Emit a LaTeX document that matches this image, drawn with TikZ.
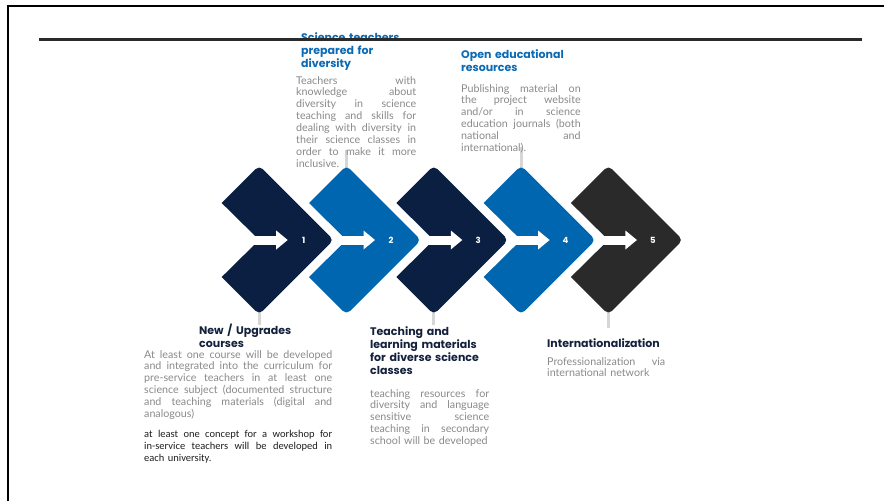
\documentclass[tikz,border=0pt]{standalone}
\usepackage{fontspec}
\usetikzlibrary{calc}
\setmainfont{Lato}
\newfontfamily\popfont{Poppins}
\newfontfamily\calfont{Carlito}
\definecolor{navy}{HTML}{0B1F42}
\definecolor{cblue}{HTML}{0066B0}
\definecolor{cdark}{HTML}{2A2A2A}
\definecolor{tblue}{HTML}{0A6AB5}
\definecolor{tnavy}{HTML}{14213D}
\definecolor{graytxt}{HTML}{8A8A8A}
\definecolor{connline}{HTML}{D6D6D6}
% one justified line of a text block, \jw wide (stretchable word spaces)
\newlength{\jw}
\newcommand{\jl}[1]{\leavevmode\hbox to \jw{\spaceskip=0pt\xspaceskip=0pt #1}}
\begin{document}
\begin{tikzpicture}[x=1pt,y=-1pt,
  ttl/.style={anchor=base west, inner sep=0pt, align=left, text width=150pt,
    font=\popfont\bfseries\fontsize{11}{13.3}\selectfont},
  bodytxt/.style={anchor=base west, inner sep=0pt, align=left, text width=#1,
    execute at begin node={\setlength{\jw}{#1}},
    text=graytxt, font=\fontsize{10.7}{11.9}\selectfont},
  blacktxt/.style={anchor=base west, inner sep=0pt, align=left, text width=#1,
    execute at begin node={\setlength{\jw}{#1}},
    text=black!88, font=\calfont\fontsize{10.5}{12.3}\selectfont},
  num/.style={inner sep=0pt, text=white, font=\popfont\bfseries\fontsize{8.5}{8.5}\selectfont},
  conn/.style={draw=connline, line width=2.8pt}]
\useasboundingbox (0,0) rectangle (884,501);
\fill[white] (0,0) rectangle (884,501);

% outer frame (top and left edges)
\draw[black, line width=2pt] (7.5,501) -- (7.5,6) -- (884,6);

% step tips, used as connector ends
\foreach \i in {1,...,5} {
  \pgfmathsetmacro\xo{221.7+87.3*(\i-1)}
  \coordinate (top\i) at (\xo+37.5,168);
  \coordinate (bot\i) at (\xo+37.5,312);
}
\coordinate (e1) at ($(bot1)+(0,13)$);
\coordinate (e2) at ($(top2)+(0,-18)$);
\coordinate (e3) at ($(bot3)+(0,13)$);
\coordinate (e4) at ($(top4)+(0,-21)$);
\coordinate (e5) at ($(bot5)+(0,16)$);

% connectors from the steps to their descriptions
\draw[conn] (bot1) -- (e1);
\draw[conn] (top2) -- (e2);
\draw[conn] (bot3) -- (e3);
\draw[conn] (top4) -- (e4);
\draw[conn] (bot5) -- (e5);

% the five chevron steps with arrows and numbers
\foreach \i/\col in {1/navy,2/cblue,3/navy,4/cblue,5/cdark} {
  \pgfmathsetmacro\xo{221.7+87.3*(\i-1)}
  \fill[\col] (\xo,203) [rounded corners=5pt] -- (\xo+37.5,165.5) -- (\xo+112,240)
    -- (\xo+37.5,314.5) [sharp corners] -- (\xo,277) -- (\xo+37.5,240) -- cycle;
  \fill[white] (\xo+31,235.5) rectangle (\xo+55,244.5);
  \fill[white] (\xo+54.5,230.5) -- (\xo+66,240) -- (\xo+54.5,249.5) -- cycle;
  \node[num] (n\i) at (\xo+82,240) {\i};
}

% step 2
\node[ttl, text=tblue] (t2) at (301,41) {Science teachers\\prepared for\\diversity};
\node[bodytxt=120pt] (b2) at (296,84) {\jl{Teachers with}\\\jl{knowledge about}\\\jl{diversity in science}\\\jl{teaching and skills for}\\\jl{dealing with diversity in}\\\jl{their science classes in}\\\jl{order to make it more}\\inclusive.};

% step 4
\node[ttl, text=tblue] (t4) at (461,58) {Open educational\\resources};
\node[bodytxt=119.5pt] (b4) at (461,92) {\jl{Publishing material on}\\\jl{the project website}\\\jl{and/or in science}\\\jl{education journals (both}\\\jl{national and}\\international).};

% step 1
\node[ttl, text=tnavy] (t1) at (199,334) {New / Upgrades\\courses};
\node[bodytxt=188pt] (b1) at (144,358) {\jl{At least one course will be developed}\\\jl{and integrated into the curriculum for}\\\jl{pre-service teachers in at least one}\\\jl{science subject (documented structure}\\\jl{and teaching materials (digital and}\\analogous)};
\node[blacktxt=188pt] (k1) at (144,437) {\jl{at least one concept for a workshop for}\\\jl{in-service teachers will be developed in}\\each university.};

% step 3
\node[ttl, text=tnavy] (t3) at (370,335) {Teaching and\\learning materials\\for diverse science\\classes};
\node[bodytxt=119pt] (b3) at (370,397) {\jl{teaching resources for}\\\jl{diversity and language}\\\jl{sensitive science}\\\jl{teaching in secondary}\\school will be developed};

% step 5
\node[ttl, text=tnavy] (t5) at (547,347) {Internationalization};
\node[bodytxt=118pt] (b5) at (547,365) {\jl{Professionalization via}\\international network};

% header rule
\draw[cdark, line width=2.5pt] (39,39.5) -- (862,39.5);
\end{tikzpicture}
\end{document}
